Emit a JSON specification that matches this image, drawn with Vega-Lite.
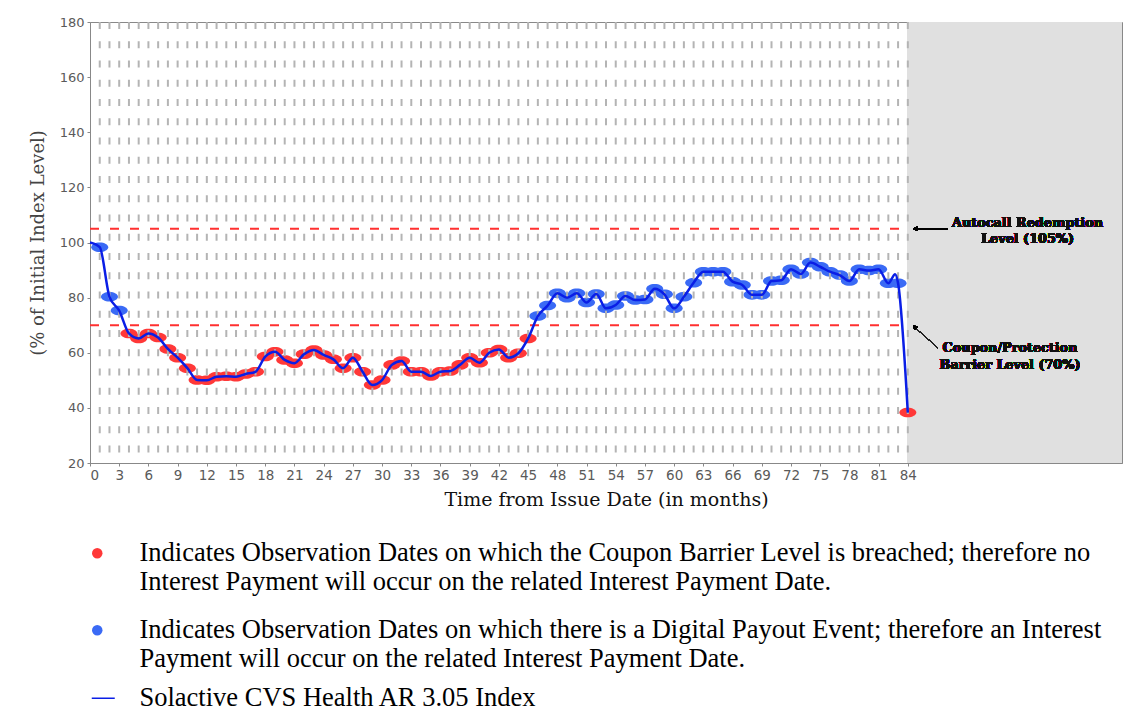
{
  "$schema": "https://vega.github.io/schema/vega-lite/v6.json",
  "width": 1032,
  "height": 441,
  "autosize": {"type": "none"},
  "padding": {"left": 90, "top": 22, "right": 6, "bottom": 252},
  "background": "white",
  "config": {
    "view": {"stroke": "#888888", "strokeWidth": 1},
    "axis": {
      "labelFont": "DejaVu Sans",
      "labelFontSize": 13,
      "labelColor": "#5a5a5a",
      "domainColor": "#888888",
      "tickColor": "#888888",
      "tickSize": 3,
      "grid": false,
      "labelOverlap": false,
      "titleFontWeight": "normal"
    },
    "legend": {"padding": 0}
  },
  "datasets": {
    "index": [
      {"m": 0, "v": 100},
      {"m": 1, "v": 98.3, "e": "P"},
      {"m": 2, "v": 80.3, "e": "P"},
      {"m": 3, "v": 75.3, "e": "P"},
      {"m": 4, "v": 67, "e": "B"},
      {"m": 5, "v": 65.2, "e": "B"},
      {"m": 6, "v": 67, "e": "B"},
      {"m": 7, "v": 65.5, "e": "B"},
      {"m": 8, "v": 61.4, "e": "B"},
      {"m": 9, "v": 58.2, "e": "B"},
      {"m": 10, "v": 54.4, "e": "B"},
      {"m": 11, "v": 50.1, "e": "B"},
      {"m": 12, "v": 50, "e": "B"},
      {"m": 13, "v": 51.3, "e": "B"},
      {"m": 14, "v": 51.5, "e": "B"},
      {"m": 15, "v": 51.3, "e": "B"},
      {"m": 16, "v": 52.3, "e": "B"},
      {"m": 17, "v": 53.1, "e": "B"},
      {"m": 18, "v": 58.6, "e": "B"},
      {"m": 19, "v": 60.4, "e": "B"},
      {"m": 20, "v": 57.4, "e": "B"},
      {"m": 21, "v": 56.2, "e": "B"},
      {"m": 22, "v": 59.5, "e": "B"},
      {"m": 23, "v": 61, "e": "B"},
      {"m": 24, "v": 59.2, "e": "B"},
      {"m": 25, "v": 57.6, "e": "B"},
      {"m": 26, "v": 54.4, "e": "B"},
      {"m": 27, "v": 58.2, "e": "B"},
      {"m": 28, "v": 53.1, "e": "B"},
      {"m": 29, "v": 48.3, "e": "B"},
      {"m": 30, "v": 50.1, "e": "B"},
      {"m": 31, "v": 55.6, "e": "B"},
      {"m": 32, "v": 57, "e": "B"},
      {"m": 33, "v": 53.1, "e": "B"},
      {"m": 34, "v": 53.1, "e": "B"},
      {"m": 35, "v": 51.6, "e": "B"},
      {"m": 36, "v": 53.1, "e": "B"},
      {"m": 37, "v": 53.4, "e": "B"},
      {"m": 38, "v": 55.6, "e": "B"},
      {"m": 39, "v": 58.2, "e": "B"},
      {"m": 40, "v": 56.4, "e": "B"},
      {"m": 41, "v": 60, "e": "B"},
      {"m": 42, "v": 61.2, "e": "B"},
      {"m": 43, "v": 58.2, "e": "B"},
      {"m": 44, "v": 59.8, "e": "B"},
      {"m": 45, "v": 65.2, "e": "B"},
      {"m": 46, "v": 73.3, "e": "P"},
      {"m": 47, "v": 77.1, "e": "P"},
      {"m": 48, "v": 81.6, "e": "P"},
      {"m": 49, "v": 80, "e": "P"},
      {"m": 50, "v": 81.6, "e": "P"},
      {"m": 51, "v": 78.2, "e": "P"},
      {"m": 52, "v": 81.3, "e": "P"},
      {"m": 53, "v": 76.1, "e": "P"},
      {"m": 54, "v": 77.3, "e": "P"},
      {"m": 55, "v": 80.6, "e": "P"},
      {"m": 56, "v": 79.1, "e": "P"},
      {"m": 57, "v": 79.3, "e": "P"},
      {"m": 58, "v": 83.2, "e": "P"},
      {"m": 59, "v": 81.2, "e": "P"},
      {"m": 60, "v": 76.1, "e": "P"},
      {"m": 61, "v": 80.3, "e": "P"},
      {"m": 62, "v": 85.4, "e": "P"},
      {"m": 63, "v": 89.4, "e": "P"},
      {"m": 64, "v": 89.4, "e": "P"},
      {"m": 65, "v": 89.4, "e": "P"},
      {"m": 66, "v": 85.8, "e": "P"},
      {"m": 67, "v": 84.6, "e": "P"},
      {"m": 68, "v": 81, "e": "P"},
      {"m": 69, "v": 81, "e": "P"},
      {"m": 70, "v": 86, "e": "P"},
      {"m": 71, "v": 86.3, "e": "P"},
      {"m": 72, "v": 90.3, "e": "P"},
      {"m": 73, "v": 88.6, "e": "P"},
      {"m": 74, "v": 92.7, "e": "P"},
      {"m": 75, "v": 91.2, "e": "P"},
      {"m": 76, "v": 89.4, "e": "P"},
      {"m": 77, "v": 88.2, "e": "P"},
      {"m": 78, "v": 86, "e": "P"},
      {"m": 79, "v": 90.3, "e": "P"},
      {"m": 80, "v": 89.8, "e": "P"},
      {"m": 81, "v": 90.3, "e": "P"},
      {"m": 82, "v": 85.2, "e": "P"},
      {"m": 82.7, "v": 88.5},
      {"m": 83, "v": 85.2, "e": "P"},
      {"m": 84, "v": 38.3, "e": "B"}
    ]
  },
  "data": {"name": "index"},
  "layer": [
    {
      "mark": {"type": "rect", "color": "#e0e0e0"},
      "encoding": {
        "x": {"datum": 84, "type": "quantitative", "scale": {"domain": [0, 106], "nice": false, "zero": false},
          "axis": {"values": [0,3,6,9,12,15,18,21,24,27,30,33,36,39,42,45,48,51,54,57,60,63,66,69,72,75,78,81,84],
            "tickCount": 100, "labelOverlap": false, "labelFontSize": 13.5,
            "title": "Time from Issue Date (in months)", "titleFont": "DejaVu Serif", "titleFontSize": 19,
            "titleColor": "#111111", "titlePadding": 9, "labelPadding": 2}},
        "x2": {"datum": 106},
        "y": {"datum": 20, "type": "quantitative", "scale": {"domain": [20, 180], "nice": false, "zero": false},
          "axis": {"values": [20,40,60,80,100,120,140,160,180], "tickCount": 20, "title": "(% of Initial Index Level)",
            "titleFont": "DejaVu Serif", "titleFontSize": 18, "titleColor": "#444444", "titlePadding": 12, "labelPadding": 3}},
        "y2": {"datum": 180}
      }
    },
    {
      "transform": [{"filter": {"field": "e", "oneOf": ["B", "P"]}}],
      "mark": {"type": "point", "filled": true, "opacity": 1, "size": 289,
        "shape": "M -1 0 A 1 0.56 0 1 1 1 0 A 1 0.56 0 1 1 -1 0 Z"},
      "encoding": {
        "x": {"field": "m", "type": "quantitative"},
        "y": {"field": "v", "type": "quantitative"},
        "color": {
          "field": "e", "type": "nominal",
          "scale": {"domain": ["B", "P"], "range": ["#ff3838", "#3a6af5"]},
          "legend": {
            "orient": "none", "legendX": -6, "legendY": 518,
            "direction": "vertical", "title": null,
            "symbolType": "circle", "symbolSize": 110, "symbolOpacity": 1,
            "labelFont": "Liberation Serif", "labelFontSize": 26.5, "labelColor": "#000000",
            "labelLimit": 1100, "labelOffset": 29, "rowPadding": 21,
            "labelBaseline": "middle",
            "labelExpr": "datum.value === 'B' ? ['Indicates Observation Dates on which the Coupon Barrier Level is breached; therefore no', 'Interest Payment will occur on the related Interest Payment Date.'] : ['Indicates Observation Dates on which there is a Digital Payout Event; therefore an Interest', 'Payment will occur on the related Interest Payment Date.']",
            "encode": {
              "labels": {"lineHeight": {"value": 28}, "dy": {"value": 14}}
            }
          }
        }
      }
    },
    {
      "transform": [{"filter": {"field": "e", "oneOf": ["B", "P"]}}],
      "mark": {"type": "rule", "color": "#b4b4b4", "strokeWidth": 2, "strokeDash": [7, 12.25]},
      "encoding": {
        "x": {"field": "m", "type": "quantitative"},
        "y": {"datum": 180},
        "y2": {"datum": 20}
      }
    },
    {
      "data": {"values": [{"level": 105}, {"level": 70}]},
      "mark": {"type": "rule", "color": "#ff3030", "strokeWidth": 2, "strokeDash": [9, 11]},
      "encoding": {
        "y": {"field": "level", "type": "quantitative"},
        "x": {"datum": 0},
        "x2": {"datum": 84}
      }
    },
    {
      "mark": {"type": "line", "strokeWidth": 2.5, "interpolate": "monotone"},
      "encoding": {
        "x": {"field": "m", "type": "quantitative"},
        "y": {"field": "v", "type": "quantitative"},
        "stroke": {
          "datum": "I", "type": "nominal",
          "scale": {"domain": ["I"], "range": ["#0a1ee6"]},
          "legend": {
            "orient": "none", "legendX": 0, "legendY": 663,
            "title": null, "symbolType": "stroke", "symbolSize": 529, "symbolStrokeWidth": 1.5,
            "labelFont": "Liberation Serif", "labelFontSize": 26.5, "labelColor": "#000000",
            "labelLimit": 1100, "labelOffset": 23, "labelBaseline": "middle",
            "labelExpr": "'Solactive CVS Health AR 3.05 Index'"
          }
        }
      }
    },
    {
      "mark": {"type": "rule", "color": "#000000", "strokeWidth": 1},
      "encoding": {"x": {"datum": 84.6}, "x2": {"datum": 88.1}, "y": {"datum": 105}}
    },
    {
      "mark": {"type": "point", "shape": "triangle-left", "filled": true, "color": "#000000", "size": 22, "opacity": 1},
      "encoding": {"x": {"datum": 84.75}, "y": {"datum": 105}}
    },
    {
      "mark": {"type": "rule", "color": "#222222", "strokeWidth": 1},
      "encoding": {"x": {"datum": 84.6}, "x2": {"datum": 87.1}, "y": {"datum": 69.6}, "y2": {"datum": 61.7}}
    },
    {
      "mark": {"type": "point", "shape": "triangle-left", "filled": true, "color": "#000000", "size": 22, "opacity": 1, "angle": 43},
      "encoding": {"x": {"datum": 84.7}, "y": {"datum": 69.4}}
    },
    {
      "mark": {"type": "text", "font": "DejaVu Serif", "fontWeight": "bold", "fontSize": 12.8, "lineHeight": 16, "align": "center", "baseline": "middle", "color": "#111111"},
      "encoding": {"x": {"datum": 96.3}, "y": {"datum": 107.2}, "text": {"value": ["Autocall Redemption", "Level (105%)"]}}
    },
    {
      "mark": {"type": "text", "font": "DejaVu Serif", "fontWeight": "bold", "fontSize": 12.8, "lineHeight": 17, "align": "center", "baseline": "middle", "color": "#111111"},
      "encoding": {"x": {"datum": 94.5}, "y": {"datum": 61.8}, "text": {"value": ["Coupon/Protection", "Barrier Level (70%)"]}}
    }
  ]
}
